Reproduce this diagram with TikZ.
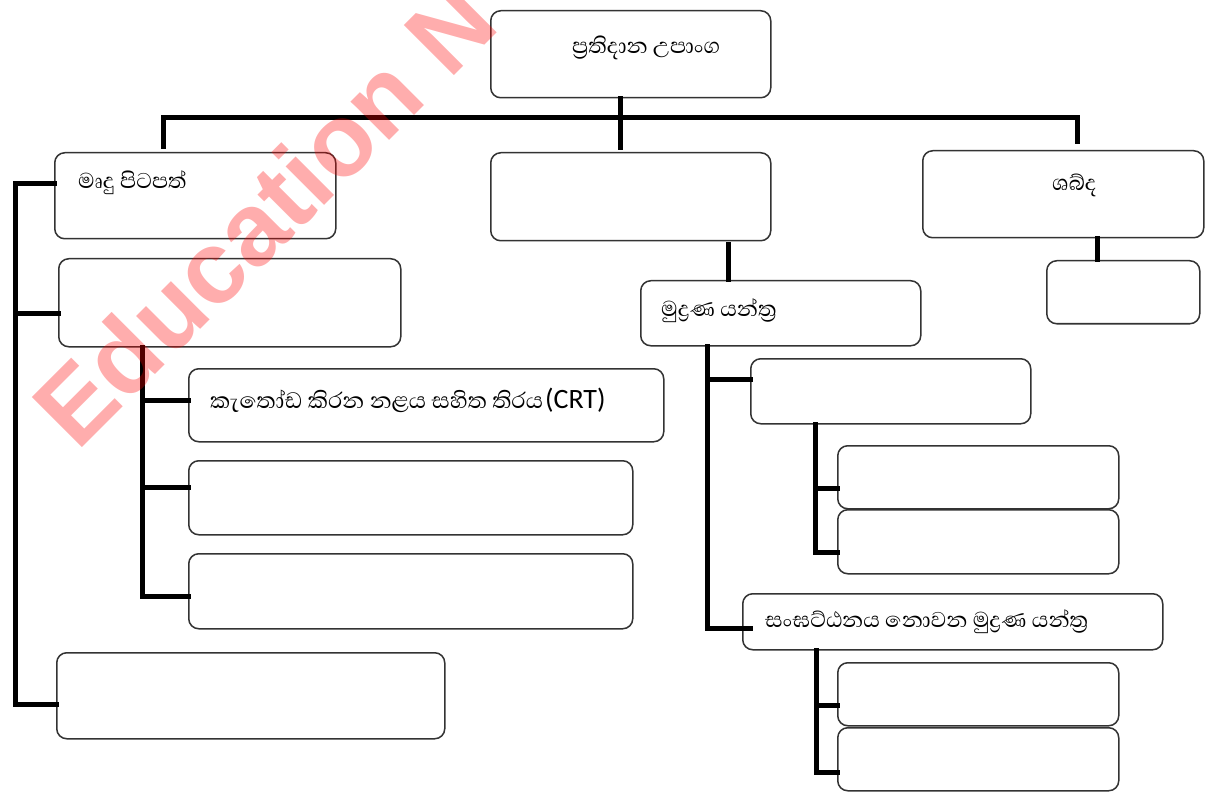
\documentclass[tikz,border=0pt]{standalone}
\usepackage{fontspec}
\newfontfamily\sinfont[Script=Sinhala]{Abhaya Libre}
\newfontfamily\latfont{Carlito}
\newfontfamily\wmfont{Liberation Sans}
\begin{document}
\begin{tikzpicture}[x=1pt,y=-1pt,
  box/.style={draw=black!80, line width=1.5pt, rounded corners=10pt, anchor=north west, inner sep=0pt, fill=white},
  conn/.style={line width=5pt, line cap=rect, line join=miter},
  lbl/.style={font=\sinfont\fontsize{27.5}{30}\selectfont, inner sep=0pt, anchor=west},
]
\useasboundingbox (0,0) rectangle (1210,794);
\fill[white] (0,0) rectangle (1210,794);

% boxes
\node[box, minimum width=280pt, minimum height=87pt] (top) at (490,10) {};
\node[box, minimum width=281pt, minimum height=86pt] (mrdu) at (54,152) {};
\node[box, minimum width=280pt, minimum height=88pt] (center) at (490,152) {};
\node[box, minimum width=281pt, minimum height=87pt] (sound) at (922,150) {};
\node[box, minimum width=153pt, minimum height=63pt] (snd2) at (1046,260) {};
\node[box, minimum width=342pt, minimum height=88pt] (box2) at (58,258) {};
\node[box, minimum width=388pt, minimum height=86pt] (bot) at (56,652) {};
\node[box, minimum width=475pt, minimum height=73pt] (crt) at (188,368) {};
\node[box, minimum width=444pt, minimum height=74pt] (b2b) at (188,460) {};
\node[box, minimum width=444pt, minimum height=75pt] (b2c) at (188,553) {};
\node[box, minimum width=280pt, minimum height=65pt] (prn) at (640,280) {};
\node[box, minimum width=280pt, minimum height=65pt] (p1) at (750,358) {};
\node[box, minimum width=281pt, minimum height=63pt] (p1a) at (837,445) {};
\node[box, minimum width=281pt, minimum height=64pt] (p1b) at (837,509) {};
\node[box, minimum width=420pt, minimum height=56pt] (ni) at (742,593) {};
\node[box, minimum width=281pt, minimum height=63pt] (n1) at (837,662) {};
\node[box, minimum width=281pt, minimum height=63pt] (n2) at (837,727) {};

% labels
\node[lbl] (ttop) at (572,48) {ප්‍රතිදාන උපාංග};
\node[lbl] (tmrdu) at (78,183) {මෘදු පිටපත්};
\node[lbl] (tsound) at (1052,185) {ශබ්ද};
\node[lbl, font=\sinfont\fontsize{28.5}{31}\selectfont] (tcrt) at (210,400) {කැතෝඩ කිරන නළය සහිත තිරය\hspace{2pt}{\latfont\fontsize{28}{30}\selectfont(CRT)}};
\node[lbl] (tprn) at (661,311) {මුද්‍රණ යන්ත්‍ර};
\node[lbl] (tni) at (765,622) {සංඝට්ඨනය නොවන මුද්‍රණ යන්ත්‍ර};

% connector coordinates
\coordinate (barL) at (163,118);
\coordinate (barR) at (1077,118);
\coordinate (ls) at (15,0);
\coordinate (mrduIn) at ([yshift=12pt]mrdu.west);
\coordinate (box2In) at ([yshift=-11pt]box2.west);
\coordinate (botIn) at ([yshift=-9pt]bot.west);
\coordinate (s2) at ([xshift=84pt]box2.south west);
\coordinate (crtIn) at ([yshift=5pt]crt.west);
\coordinate (bIn) at ([yshift=10pt]b2b.west);
\coordinate (cIn) at ([yshift=-5pt]b2c.west);
\coordinate (s3) at ([xshift=67pt]prn.south west);
\coordinate (p1In) at ([yshift=12pt]p1.west);
\coordinate (niIn) at ([xshift=8pt,yshift=-7pt]ni.west);
\coordinate (s4) at ([xshift=65pt]p1.south west);
\coordinate (p1aIn) at ([yshift=-11pt]p1a.west);
\coordinate (p1bIn) at ([yshift=-11pt]p1b.west);
\coordinate (s5) at ([xshift=74pt]ni.south west);
\coordinate (n1In) at ([yshift=-11pt]n1.west);
\coordinate (n2In) at ([yshift=-13pt]n2.west);

% connectors
\draw[conn] ([xshift=-10pt]top.south) -- ([xshift=-10pt,yshift=4pt]center.north);
\draw[conn] ([yshift=5pt]mrdu.north -| barL) -- (barL) -- (barR) -- ([yshift=8pt]sound.north -| barR);
\draw[conn] ([xshift=238pt,yshift=-3pt]center.south west) -- ([xshift=88pt]prn.north west);
\draw[conn] ([xshift=175pt]sound.south west) -- ([xshift=51pt]snd2.north west);

\draw[conn] (mrduIn) -- (mrduIn -| ls) -- (botIn -| ls) -- (botIn);
\draw[conn] (box2In -| ls) -- (box2In);

\draw[conn] (s2) -- (cIn -| s2) -- (cIn);
\draw[conn] (crtIn -| s2) -- (crtIn);
\draw[conn] (bIn -| s2) -- (bIn);

\draw[conn] (s3) -- (niIn -| s3) -- (niIn);
\draw[conn] (p1In -| s3) -- (p1In);

\draw[conn] (s4) -- (p1bIn -| s4) -- (p1bIn);
\draw[conn] (p1aIn -| s4) -- (p1aIn);

\draw[conn] (s5) -- (n2In -| s5) -- (n2In);
\draw[conn] (n1In -| s5) -- (n1In);

% watermark
\begin{scope}
\clip (0,0) rectangle (1210,794);
\node[inner sep=0pt, anchor=base west, rotate=45, text=red, text opacity=0.32,
  font=\wmfont\bfseries\fontsize{103}{103}\selectfont] (wm) at (77,453) {Education N};
\end{scope}
\end{tikzpicture}
\end{document}
